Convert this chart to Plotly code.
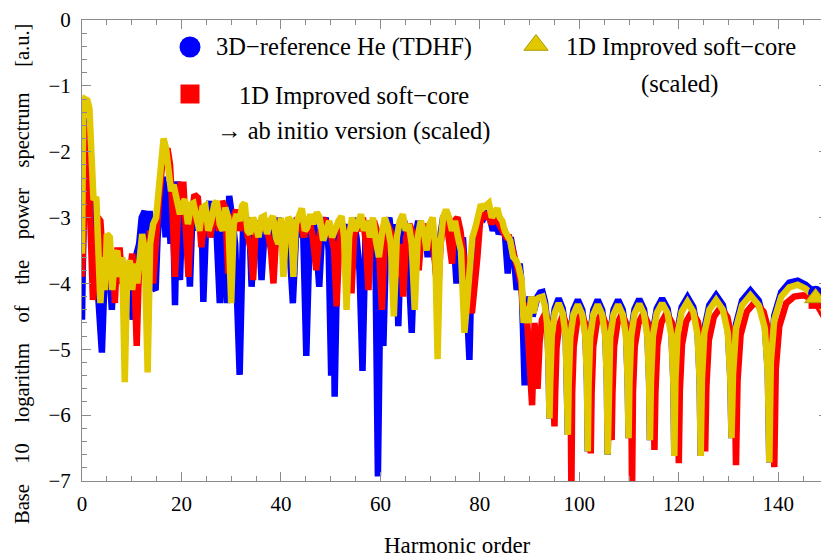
import plotly.graph_objects as go

# ---------------- data ----------------
blue_h = [0.0, 0.2, 0.6, 1.0, 1.5, 2.0, 2.5, 3.0, 3.5, 4.0, 4.5, 5.0, 5.5, 6.0, 6.5, 7.2, 8.0, 8.5, 9.0, 9.6,
          10.2, 10.8, 11.5, 12.0, 12.6, 13.2, 13.6, 14.2, 14.8, 15.2, 15.8, 16.3, 16.8, 17.2, 17.8, 18.2, 18.7, 19.2, 19.7,
          20.2, 20.7, 21.2, 21.7, 22.2, 22.8, 23.4, 24.0, 24.4, 25.0, 25.6, 26.2, 26.8, 27.7, 28.3, 29.1, 29.6,
          30.2, 30.8, 31.7, 32.4, 33.0, 33.6, 34.1, 34.8, 35.5, 36.1, 36.8, 37.5, 38.2, 38.8, 39.5,
          40.3, 41.0, 41.6, 42.4, 43.2, 43.8, 44.4, 45.1, 45.8, 46.5, 47.1, 47.7, 48.3, 49.0, 49.6,
          50.1, 50.5, 50.8, 51.4, 52.0, 52.6, 53.2, 53.8, 54.5, 55.2, 55.8, 56.4, 57.0, 57.6, 58.3, 59.0, 59.5,
          60.0, 60.6, 61.2, 61.8, 62.4, 63.0, 63.6, 64.2, 64.8, 65.5, 66.3, 67.0, 67.6, 68.2, 68.8, 69.5,
          70.2, 70.8, 71.4, 72.0, 72.6, 73.3, 74.0, 74.6, 75.3, 76.0, 76.6, 77.3, 77.9, 78.4, 79.0, 79.6,
          80.2, 80.8, 81.4, 82.0, 82.6, 83.2, 83.8, 84.4, 85.0, 85.6, 86.2, 86.8, 87.4, 88.0, 88.4,
          89.0, 89.5, 90.0, 90.6, 91.1, 91.6, 92.1, 92.6, 93.1, 93.5, 93.8, 94.0,
          94.15, 94.45, 95.05, 95.85, 96.65, 97.25, 97.55, 97.7,
          97.86, 98.18, 98.82, 99.7, 100.58, 101.22, 101.54, 101.7,
          101.86, 102.18, 102.82, 103.7, 104.58, 105.22, 105.54, 105.7,
          105.87, 106.2, 106.88, 107.8, 108.72, 109.4, 109.73, 109.9,
          110.07, 110.42, 111.1, 112.05, 113.0, 113.68, 114.03, 114.2,
          114.4, 114.79, 115.57, 116.65, 117.73, 118.51, 118.9, 119.1,
          119.31, 119.74, 120.58, 121.75, 122.92, 123.76, 124.19, 124.4,
          124.65, 125.14, 126.14, 127.5, 128.86, 129.86, 130.35, 130.6,
          130.9, 131.51, 132.73, 134.4, 136.07, 137.29, 137.9, 138.2,
          138.5, 139.2, 140.6, 142.2, 143.9, 145.5, 147.5, 149.0, 150.0]
blue_v = [-4.55, -3.6, -1.6, -1.5, -2.2, -3.0, -3.6, -3.9, -4.5, -5.05, -4.0, -3.6, -3.8, -4.4, -3.7, -4.0, -3.6, -4.3, -3.8, -4.2,
          -4.55, -3.6, -3.4, -3.0, -2.9, -3.6, -2.9, -4.05, -4.1, -3.3, -2.6, -2.38, -3.3, -2.45, -3.4, -2.45, -4.33, -2.45, -3.95,
          -2.8, -3.0, -3.2, -4.05, -2.95, -2.75, -3.2, -2.8, -4.28, -3.0, -2.75, -3.3, -2.8, -4.3, -2.8, -4.3, -2.67,
          -3.0, -3.4, -5.39, -3.1, -3.2, -3.0, -4.05, -3.2, -3.05, -3.95, -3.1, -3.3, -3.1, -3.4, -3.0,
          -3.5, -3.1, -3.3, -4.3, -3.0, -3.3, -3.0, -5.1, -3.2, -3.0, -3.4, -4.05, -3.2, -3.0, -3.5,
          -5.4, -3.6, -5.72, -3.3, -3.05, -3.5, -3.1, -3.4, -3.0, -3.3, -3.8, -5.33, -3.3, -3.05, -3.4, -3.6, -6.93,
          -4.0, -4.95, -3.2, -3.0, -3.4, -3.1, -4.65, -3.2, -3.05, -3.5, -4.75, -3.3, -3.05, -3.3, -3.1, -3.6,
          -3.1, -3.4, -4.1, -3.3, -3.0, -2.95, -3.3, -3.15, -4.0, -3.5, -3.3, -4.2, -5.16, -3.6, -3.3, -3.1,
          -2.95, -3.0, -2.9, -3.0, -3.2, -3.05, -3.25, -3.15, -3.2, -3.85, -3.3, -3.55, -4.1, -3.7, -4.0,
          -5.55, -4.4, -4.2, -4.5, -4.3, -4.2, -4.14, -4.13, -4.28, -4.55, -5.15, -6.05,
          -5.46, -4.74, -4.38, -4.23, -4.38, -4.74, -5.46, -6.3,
          -5.48, -4.76, -4.4, -4.25, -4.4, -4.76, -5.48, -6.55,
          -5.48, -4.76, -4.4, -4.25, -4.4, -4.76, -5.48, -6.6,
          -5.48, -4.76, -4.4, -4.25, -4.4, -4.76, -5.48, -6.35,
          -5.47, -4.75, -4.39, -4.24, -4.39, -4.75, -5.47, -6.38,
          -5.46, -4.74, -4.38, -4.23, -4.38, -4.74, -5.46, -6.62,
          -5.44, -4.72, -4.36, -4.21, -4.36, -4.72, -5.44, -6.62,
          -5.41, -4.69, -4.33, -4.18, -4.33, -4.69, -5.41, -6.35,
          -5.34, -4.62, -4.26, -4.11, -4.26, -4.62, -5.34, -6.72,
          -5.16, -4.49, -4.13, -3.99, -3.96, -4.02, -4.15, -4.32, -4.45]

red_h = [0.0, 0.5, 1.0, 1.4, 1.8, 2.2, 2.6, 3.2, 3.7, 4.1, 4.6, 5.1, 5.6, 6.2, 6.6, 7.1, 7.6, 8.0, 8.4, 8.9, 9.5,
         10.1, 10.6, 11.0, 11.4, 12.0, 12.5, 13.1, 13.7, 14.3, 14.9, 15.5, 16.1, 16.7, 17.2, 17.7, 18.2, 18.7, 19.2, 19.8,
         20.4, 21.0, 21.4, 21.9, 22.6, 23.3, 24.0, 24.6, 25.2, 25.8, 26.4, 27.0, 27.6, 28.2, 28.8, 29.4,
         30.0, 30.5, 31.0, 31.6, 32.2, 32.8, 33.4, 34.0, 34.4, 34.9, 35.5, 36.1, 36.7, 37.3, 38.0, 38.5, 39.0, 39.6,
         40.2, 40.8, 41.4, 42.2, 42.8, 43.4, 44.0, 44.6, 45.2, 45.8, 46.4, 47.1, 47.7, 48.3, 48.9, 49.6,
         50.2, 50.7, 51.2, 51.7, 52.3, 52.9, 53.5, 54.2, 54.7, 55.3, 55.9, 56.5, 57.1, 57.6, 58.1, 58.7, 59.3, 59.8,
         60.3, 60.8, 61.4, 62.0, 62.6, 63.1, 63.6, 64.1, 64.6, 65.2, 65.8, 66.4, 67.0, 67.7, 68.3, 68.9, 69.5,
         70.1, 70.6, 71.0, 71.6, 72.1, 72.7, 73.3, 73.9, 74.4, 74.9, 75.5, 76.1, 76.7, 77.3, 77.9, 78.4, 78.9, 79.5,
         80.0, 80.6, 81.2, 81.7, 82.3, 82.9, 83.5, 84.1, 84.7, 85.3, 85.9, 86.5, 87.1, 87.7, 88.3, 88.8, 89.3, 89.8,
         90.5, 91.0, 91.6, 92.0, 92.5, 93.2, 93.9, 94.5, 94.85, 95.0,
         95.14, 95.41, 95.95, 96.7, 97.45, 97.99, 98.26, 98.4,
         98.56, 98.87, 99.49, 100.35, 101.21, 101.83, 102.14, 102.3,
         102.47, 102.8, 103.48, 104.4, 105.32, 106.0, 106.33, 106.5,
         106.66, 106.99, 107.65, 108.55, 109.45, 110.11, 110.44, 110.6,
         110.78, 111.14, 111.86, 112.85, 113.84, 114.56, 114.92, 115.1,
         115.3, 115.69, 116.47, 117.55, 118.63, 119.41, 119.8, 120.0,
         120.21, 120.64, 121.48, 122.65, 123.82, 124.66, 125.09, 125.3,
         125.55, 126.04, 127.04, 128.4, 129.76, 130.76, 131.25, 131.5,
         131.81, 132.42, 133.66, 135.35, 137.04, 138.28, 138.89, 139.2,
         139.5, 140.2, 141.6, 143.2, 145.0, 146.5, 147.5, 148.5, 150.0]
red_v = [-3.9, -2.6, -1.57, -2.4, -3.2, -4.25, -3.9, -3.0, -3.05, -3.6, -4.1, -3.6, -3.8, -3.5, -4.3, -3.5, -3.5, -3.9, -4.1, -3.7, -3.9,
         -3.55, -4.0, -4.95, -3.9, -3.6, -3.5, -3.8, -3.2, -4.0, -3.2, -2.7, -2.2, -2.0, -1.95, -2.2, -2.9, -3.9, -3.1, -2.5,
         -2.5, -3.2, -3.9, -3.1, -2.65, -2.7, -3.45, -3.0, -2.9, -3.3, -3.0, -2.9, -3.2, -2.75, -2.85, -3.85,
         -3.3, -3.0, -2.88, -3.2, -3.0, -3.1, -3.3, -3.5, -3.95, -3.2, -3.1, -3.2, -3.05, -3.2, -3.5, -4.0, -3.3, -3.05,
         -3.15, -3.3, -3.1, -3.45, -3.2, -3.0, -3.1, -3.3, -3.1, -3.05, -3.3, -3.8, -3.3, -3.1, -3.05, -3.1,
         -3.3, -3.5, -4.35, -3.4, -3.1, -3.3, -3.4, -4.15, -3.3, -3.05, -3.2, -3.0, -3.4, -4.1, -3.3, -3.05, -3.2, -3.6,
         -4.4, -3.5, -3.1, -3.2, -3.4, -3.3, -3.9, -3.4, -4.2, -3.3, -3.1, -3.2, -3.3, -3.8, -3.2, -3.1, -3.3,
         -3.2, -3.4, -3.7, -4.2, -3.4, -3.1, -3.05, -3.4, -3.7, -3.05, -3.0, -3.2, -3.6, -3.8, -4.3, -4.45, -3.9, -3.6,
         -3.1, -2.95, -2.98, -2.92, -3.1, -3.0, -3.05, -3.15, -3.2, -3.3, -3.3, -3.45, -3.6, -3.8, -4.0, -4.5, -4.3, -5.0,
         -5.85, -4.6, -5.6, -4.9, -4.55, -4.45, -4.65, -5.1, -5.7, -6.17,
         -5.68, -4.98, -4.63, -4.48, -4.63, -4.98, -5.68, -7.2,
         -5.66, -4.96, -4.61, -4.46, -4.61, -4.96, -5.66, -6.58,
         -5.66, -4.96, -4.61, -4.46, -4.61, -4.96, -5.66, -6.38,
         -5.66, -4.96, -4.61, -4.46, -4.61, -4.96, -5.66, -7.2,
         -5.66, -4.96, -4.61, -4.46, -4.61, -4.96, -5.66, -6.53,
         -5.65, -4.95, -4.6, -4.45, -4.6, -4.95, -5.65, -6.73,
         -5.63, -4.93, -4.58, -4.43, -4.58, -4.93, -5.63, -6.55,
         -5.56, -4.86, -4.51, -4.36, -4.51, -4.86, -5.56, -6.76,
         -5.48, -4.78, -4.43, -4.28, -4.43, -4.78, -5.48, -6.79,
         -5.3, -4.65, -4.3, -4.2, -4.18, -4.22, -4.28, -4.42, -4.62]

gold_h = [0.0, 0.25, 0.6, 1.1, 1.5, 1.9, 2.3, 2.9, 3.3, 3.7, 4.2, 4.6, 5.0, 5.6, 6.1, 6.6, 7.1, 7.6, 8.1, 8.6, 9.1, 9.6,
          10.1, 10.6, 11.1, 11.6, 12.1, 12.6, 13.2, 13.7, 14.3, 14.9, 15.5, 16.0, 16.4, 16.9, 17.4, 17.9, 18.4, 19.0, 19.7,
          20.2, 20.7, 21.3, 21.9, 22.4, 23.0, 23.6, 24.2, 24.8, 25.4, 26.0, 26.6, 27.1, 27.7, 28.3, 28.8, 29.4,
          30.0, 30.5, 31.1, 31.7, 32.2, 32.7, 33.3, 33.8, 34.4, 34.9, 35.5, 36.1, 36.6, 37.2, 37.8, 38.4, 39.0, 39.5,
          40.0, 40.5, 41.0, 41.5, 42.0, 42.5, 43.0, 43.6, 44.2, 44.8, 45.3, 45.9, 46.5, 47.2, 47.8, 48.5, 49.1, 49.7,
          50.3, 51.0, 51.6, 52.2, 52.7, 53.2, 53.7, 54.3, 54.9, 55.5, 56.1, 56.7, 57.3, 57.9, 58.5, 59.1, 59.7,
          60.3, 60.9, 61.5, 62.1, 62.7, 63.3, 63.9, 64.5, 65.1, 65.7, 66.3, 66.9, 67.5, 68.1, 68.7, 69.3, 69.9,
          70.5, 71.0, 71.5, 72.0, 72.6, 73.2, 73.8, 74.4, 75.0, 75.6, 76.2, 76.9, 77.4, 78.0, 78.5, 79.1, 79.7,
          80.2, 80.7, 81.2, 81.8, 82.4, 83.0, 83.5, 84.0, 84.5, 85.0, 85.5, 86.1, 86.7, 87.3, 87.8, 88.4, 88.8,
          89.3, 89.8, 90.3, 90.8, 91.3, 91.8, 92.3, 92.6, 93.1, 93.5, 93.8, 94.0,
          94.15, 94.45, 95.05, 95.85, 96.65, 97.25, 97.55, 97.7,
          97.86, 98.18, 98.82, 99.7, 100.58, 101.22, 101.54, 101.7,
          101.86, 102.18, 102.82, 103.7, 104.58, 105.22, 105.54, 105.7,
          105.87, 106.2, 106.88, 107.8, 108.72, 109.4, 109.73, 109.9,
          110.07, 110.42, 111.1, 112.05, 113.0, 113.68, 114.03, 114.2,
          114.4, 114.79, 115.57, 116.65, 117.73, 118.51, 118.9, 119.1,
          119.31, 119.74, 120.58, 121.75, 122.92, 123.76, 124.19, 124.4,
          124.65, 125.14, 126.14, 127.5, 128.86, 129.86, 130.35, 130.6,
          130.9, 131.51, 132.73, 134.4, 136.07, 137.29, 137.9, 138.2,
          138.5, 139.2, 140.6, 142.2, 143.9, 145.5, 147.5, 149.0, 150.0]
gold_v = [-3.55, -1.3, -1.2, -1.22, -1.35, -2.2, -2.7, -2.72, -3.5, -4.3, -3.6, -4.1, -3.25, -3.3, -4.1, -3.6, -3.5, -3.9, -3.6, -5.5, -3.8, -3.65,
          -4.1, -3.7, -4.0, -3.5, -3.25, -3.5, -5.35, -3.4, -3.1, -3.0, -2.5, -2.0, -1.8, -1.95, -2.3, -2.6, -2.5, -2.7, -2.95,
          -2.8, -2.72, -3.1, -2.8, -2.78, -3.0, -3.2, -2.85, -2.82, -3.2, -3.05, -2.8, -2.75, -3.1, -3.2, -2.85, -3.0,
          -4.3, -3.1, -2.95, -3.05, -2.82, -2.78, -3.2, -3.25, -3.0, -3.1, -3.3, -3.0, -2.98, -3.25, -3.05, -2.98, -3.3, -3.4,
          -3.0, -3.9, -3.2, -3.0, -3.05, -3.9, -3.1, -2.95, -2.86, -3.2, -3.15, -2.95, -3.1, -2.92, -3.0, -3.35, -3.2, -3.05,
          -3.3, -3.15, -3.05, -2.98, -3.3, -4.4, -3.3, -3.0, -3.2, -3.1, -2.95, -3.2, -3.05, -3.3, -3.0, -3.35, -3.6,
          -3.25, -3.0, -3.15, -3.4, -4.5, -3.3, -3.05, -2.95, -3.2, -3.1, -3.4, -4.4, -3.3, -3.05, -3.2, -3.5, -3.1,
          -3.0, -3.4, -5.15, -3.5, -3.0, -2.88, -3.0, -3.2, -3.05, -3.3, -3.5, -4.75, -4.2, -3.6, -3.3, -3.15, -3.0,
          -2.8, -2.85, -2.82, -2.78, -3.0, -2.9, -2.86, -3.0, -3.05, -3.2, -3.3, -3.35, -3.6, -3.65, -3.75, -3.95, -4.6,
          -4.35, -4.6, -4.2, -4.45, -4.25, -4.22, -4.2, -4.2, -4.35, -4.6, -5.2, -6.05,
          -5.5, -4.8, -4.45, -4.3, -4.45, -4.8, -5.5, -6.3,
          -5.52, -4.82, -4.47, -4.32, -4.47, -4.82, -5.52, -6.55,
          -5.52, -4.82, -4.47, -4.32, -4.47, -4.82, -5.52, -6.6,
          -5.52, -4.82, -4.47, -4.32, -4.47, -4.82, -5.52, -6.35,
          -5.51, -4.81, -4.46, -4.31, -4.46, -4.81, -5.51, -6.38,
          -5.5, -4.8, -4.45, -4.3, -4.45, -4.8, -5.5, -6.62,
          -5.48, -4.78, -4.43, -4.28, -4.43, -4.78, -5.48, -6.62,
          -5.45, -4.75, -4.4, -4.25, -4.4, -4.75, -5.45, -6.35,
          -5.38, -4.68, -4.33, -4.18, -4.33, -4.68, -5.38, -6.72,
          -5.2, -4.55, -4.2, -4.06, -4.02, -4.08, -4.22, -4.38, -4.5]

# plot-marker position on the curves
marker_h = 147.5
blue_marker_v = -4.15
red_marker_v = -4.28
gold_marker_v = -4.22

x_ticks = [0, 20, 40, 60, 80, 100, 120, 140]
y_ticks = [0, -1, -2, -3, -4, -5, -6, -7]

legend_blue = "3D\u2212reference He (TDHF)"
legend_red = ["1D Improved soft\u2212core", "\u2192 ab initio version (scaled)"]
legend_gold = ["1D Improved soft\u2212core", "(scaled)"]

# ---------------- style ----------------
BLUE = "#0000FF"
RED = "#FF0000"
GOLD = "#E2C800"
FRAME = "#8a8a8a"
FONT = "Liberation Serif, Times New Roman, DejaVu Serif, serif"
LW = 6.5

# the page body adds an 8px offset; work in window pixels and convert
OFF = 8
WIN_W, WIN_H = 829, 558
W, H = WIN_W - OFF, WIN_H - OFF
L, R, T, B = 82, 828, 20, 481          # plot area in window pixels


def px(xp):
    return (xp - L) / (R - L)


def py(yp):
    return (B - yp) / (B - T)


fig = go.Figure()
fig.add_trace(go.Scatter(x=blue_h, y=blue_v, mode="lines", line=dict(color=BLUE, width=LW), showlegend=False))
fig.add_trace(go.Scatter(x=red_h, y=red_v, mode="lines", line=dict(color=RED, width=LW), showlegend=False))
fig.add_trace(go.Scatter(x=gold_h, y=gold_v, mode="lines", line=dict(color=GOLD, width=LW), showlegend=False))

# plot markers on the curves
fig.add_trace(go.Scatter(x=[marker_h], y=[blue_marker_v], mode="markers",
                         marker=dict(symbol="circle", size=15, color=BLUE), showlegend=False))
fig.add_trace(go.Scatter(x=[marker_h], y=[red_marker_v], mode="markers",
                         marker=dict(symbol="square", size=14, color=RED), showlegend=False))
fig.add_trace(go.Scatter(x=[marker_h], y=[gold_marker_v], mode="markers",
                         marker=dict(symbol="triangle-up", size=19, color=GOLD,
                                     line=dict(color="#B09A00", width=1)), showlegend=False))

# legend symbols (paper coordinates)
fig.add_trace(go.Scatter(x=[px(190)], y=[py(47)], xaxis="x2", yaxis="y2", mode="markers",
                         marker=dict(symbol="circle", size=21, color=BLUE), showlegend=False))
fig.add_trace(go.Scatter(x=[px(190)], y=[py(94)], xaxis="x2", yaxis="y2", mode="markers",
                         marker=dict(symbol="square", size=19, color=RED), showlegend=False))
fig.add_trace(go.Scatter(x=[px(536)], y=[py(45)], xaxis="x2", yaxis="y2", mode="markers",
                         marker=dict(symbol="triangle-up", size=21, color=GOLD,
                                     line=dict(color="#B09A00", width=1)), showlegend=False))

ann = []
ann.append(dict(x=px(214), y=py(47), text=legend_blue, xanchor="left", yanchor="middle"))
ann.append(dict(x=px(354), y=py(95), text=legend_red[0], xanchor="center", yanchor="middle"))
ann.append(dict(x=px(354), y=py(131), text=legend_red[1], xanchor="center", yanchor="middle"))
ann.append(dict(x=px(681), y=py(47), text=legend_gold[0], xanchor="center", yanchor="middle"))
ann.append(dict(x=px(680), y=py(84), text=legend_gold[1], xanchor="center", yanchor="middle"))

nb = "\u00a0"
ytitle = (f"Base{nb*4}10{nb*4}logarithm{nb*4}of{nb*4}the{nb*4}power{nb*4}spectrum{nb*5}[a.u.]")
fig.add_annotation(x=px(22), y=py(274), xref="paper", yref="paper", text=ytitle, textangle=-90,
                   showarrow=False, xanchor="center", yanchor="middle",
                   font=dict(family=FONT, size=20.5, color="black"))
fig.add_annotation(x=px(457), y=py(545), xref="paper", yref="paper", text="Harmonic order",
                   showarrow=False, xanchor="center", yanchor="middle",
                   font=dict(family=FONT, size=23, color="black"))
for a in ann:
    a.update(xref="paper", yref="paper", showarrow=False, font=dict(family=FONT, size=24.5, color="black"))
    fig.add_annotation(**a)

axis_common = dict(showline=True, linecolor=FRAME, linewidth=1, mirror="ticks", ticks="inside",
                   tickcolor=FRAME, ticklen=9, tickwidth=1, showgrid=False, zeroline=False,
                   ticklabeloverflow="allow",
                   tickfont=dict(family=FONT, size=21, color="black"))

fig.update_layout(
    width=W, height=H,
    margin=dict(l=L - OFF, r=WIN_W - R, t=T - OFF, b=WIN_H - B),
    paper_bgcolor="white", plot_bgcolor="white",
    font=dict(family=FONT),
    xaxis=dict(range=[0, 150], tickvals=x_ticks, ticklabelstandoff=4,
               minor=dict(dtick=5, tick0=0, ticks="inside", ticklen=5, tickcolor=FRAME),
               **axis_common),
    yaxis=dict(range=[-7, 0], tickvals=y_ticks, ticklabelstandoff=6,
               minor=dict(dtick=0.2, tick0=0, ticks="inside", ticklen=5, tickcolor=FRAME),
               **axis_common),
    xaxis2=dict(range=[0, 1], overlaying="x", visible=False),
    yaxis2=dict(range=[0, 1], overlaying="y", visible=False),
    showlegend=False,
)

fig.write_html("out.html")
